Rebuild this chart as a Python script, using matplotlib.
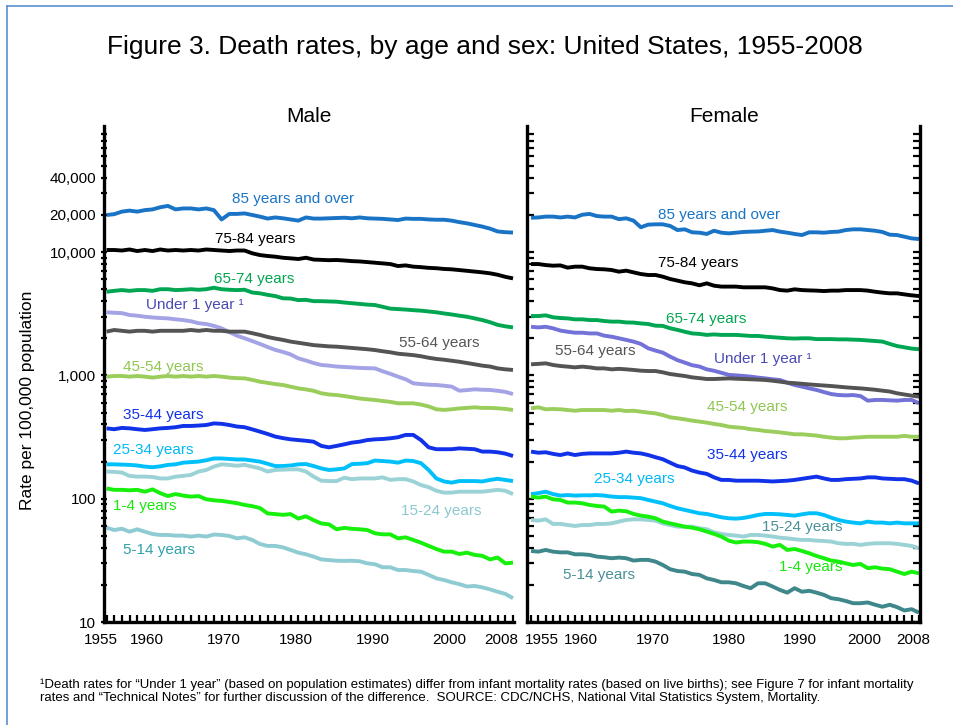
import matplotlib
matplotlib.use("Agg")
import matplotlib.pyplot as plt
import numpy as np
from matplotlib.ticker import LogLocator, NullFormatter
from matplotlib.lines import Line2D

plt.rcParams["font.family"] = ["Liberation Sans", "DejaVu Sans"]

years = list(range(1955, 2009))

# ---- Male death rates per 100,000 ----
male_85 = [20000, 20300, 21300, 21700, 21300, 21900, 22200, 23100, 23700, 22200,
           22600, 22600, 22200, 22600, 21900, 18400, 20400, 20400, 20600, 20000,
           19400, 18700, 19100, 18800, 18400, 18000, 19100, 18700, 18700, 18800,
           18900, 19000, 18800, 19100, 18800, 18700, 18600, 18400, 18200, 18700,
           18600, 18600, 18400, 18300, 18300, 18000, 17500, 17100, 16600, 16100,
           15500, 14700, 14500, 14400]
male_75 = [10400, 10400, 10300, 10500, 10200, 10400, 10200, 10500, 10300, 10400,
           10300, 10400, 10300, 10500, 10400, 10300, 10200, 10300, 10300, 9780,
           9460, 9300, 9180, 9000, 8900, 8790, 9000, 8700, 8650, 8600,
           8630, 8550, 8450, 8400, 8300, 8200, 8100, 8000, 7710, 7800,
           7620, 7550, 7450, 7400, 7300, 7250, 7150, 7050, 6950, 6850,
           6730, 6550, 6300, 6120]
male_65 = [4770, 4850, 4920, 4850, 4920, 4920, 4850, 5000, 5000, 4920,
           4950, 5000, 4950, 5000, 5140, 5000, 4950, 4920, 4950, 4700,
           4630, 4500, 4400, 4220, 4200, 4080, 4100, 4000, 4000, 3980,
           3960, 3900, 3850, 3800, 3750, 3720, 3600, 3480, 3450, 3420,
           3380, 3350, 3300, 3250, 3180, 3120, 3050, 2990, 2900, 2810,
           2700, 2570, 2500, 2450]
male_u1 = [3250, 3220, 3200, 3090, 3050, 2990, 2950, 2920, 2900, 2850,
           2810, 2750, 2650, 2610, 2520, 2410, 2250, 2100, 2000, 1900,
           1800, 1700, 1610, 1550, 1480, 1375, 1320, 1260, 1215, 1200,
           1180, 1170, 1160, 1150, 1145, 1140, 1080, 1030, 977, 930,
           863, 850, 840, 836, 825, 811, 752, 760, 771, 765,
           762, 750, 735, 706]
male_55 = [2265, 2335, 2300, 2265, 2300, 2300, 2265, 2300, 2300, 2300,
           2300, 2335, 2300, 2335, 2300, 2300, 2265, 2265, 2265, 2200,
           2130, 2050, 1990, 1940, 1880, 1840, 1800, 1760, 1740, 1720,
           1710, 1690, 1670, 1650, 1630, 1605, 1570, 1540, 1500, 1480,
           1460, 1430, 1390, 1360, 1340, 1315, 1290, 1260, 1230, 1200,
           1180, 1140, 1120, 1107]
male_45 = [977, 989, 989, 977, 989, 977, 960, 977, 989, 977,
           989, 977, 989, 977, 989, 977, 960, 950, 946, 920,
           889, 870, 850, 836, 810, 785, 770, 750, 716, 700,
           693, 680, 665, 650, 640, 632, 620, 610, 594, 594,
           594, 580, 560, 531, 525, 531, 540, 545, 551, 545,
           545, 541, 535, 524]
male_35 = [372, 366, 375, 372, 366, 361, 366, 372, 375, 380,
           389, 389, 392, 396, 408, 405, 396, 385, 380, 365,
           350, 335, 319, 310, 303, 299, 295, 290, 268, 261,
           268, 276, 285, 290, 299, 303, 305, 309, 315, 329,
           329, 299, 261, 252, 252, 252, 256, 254, 252, 241,
           241, 238, 232, 222]
male_25 = [190, 190, 189, 188, 186, 182, 180, 183, 188, 190,
           196, 198, 200, 205, 212, 212, 210, 208, 208, 204,
           200, 192, 184, 184, 186, 190, 191, 184, 176, 171,
           173, 176, 191, 192, 194, 204, 202, 200, 196, 204,
           202, 194, 171, 146, 138, 135, 139, 139, 139, 138,
           142, 145, 142, 139]
male_15 = [166, 165, 163, 153, 151, 151, 150, 146, 146, 151,
           153, 156, 166, 171, 182, 190, 188, 185, 188, 182,
           176, 166, 171, 172, 173, 173, 166, 151, 140, 139,
           139, 148, 144, 146, 146, 146, 149, 142, 144, 144,
           138, 129, 124, 116, 112, 112, 114, 114, 114, 114,
           116, 118, 116, 109]
male_1_4 = [121, 118, 118, 117, 118, 114, 119, 111, 105, 109,
            106, 104, 105, 99, 97, 96, 94, 92, 89, 87,
            84, 76, 75, 74, 75, 69, 72, 67, 63, 62,
            56.5, 58, 57, 56.5, 55.7, 52.4, 51.4, 51.4, 47.7, 48.6,
            46.3, 44.0, 41.4, 39.1, 37.2, 37.2, 35.6, 36.5, 35.0, 34.4,
            32.2, 33.3, 29.9, 30.3]
male_5_14 = [58.2, 55.7, 57.1, 54.0, 56.5, 54.0, 51.7, 50.8, 50.8, 50.2,
             50.2, 49.3, 50.2, 49.3, 51.2, 50.8, 49.9, 47.7, 48.6, 46.3,
             42.9, 41.4, 41.4, 40.3, 38.4, 36.5, 35.4, 33.9, 32.2, 31.8,
             31.4, 31.3, 31.4, 31.1, 29.9, 29.4, 27.8, 27.8, 26.4, 26.4,
             25.9, 25.6, 24.1, 22.6, 21.9, 21.0, 20.3, 19.4, 19.6, 19.1,
             18.4, 17.6, 16.9, 15.6]

# ---- Female death rates per 100,000 ----
female_85 = [19000, 19100, 19400, 19400, 19100, 19400, 19100, 20100, 20400, 19600,
             19400, 19400, 18500, 18800, 18000, 15900, 16700, 16800, 16800, 16300,
             15100, 15300, 14470, 14370, 14030, 14900, 14370, 14190, 14370, 14560,
             14650, 14700, 14900, 15100, 14650, 14370, 14030, 13750, 14470, 14470,
             14370, 14560, 14650, 15100, 15300, 15300, 15100, 14900, 14560, 13840,
             13750, 13330, 12920, 12760]
female_75 = [8000, 8000, 7850, 7760, 7800, 7480, 7620, 7620, 7390, 7290,
             7250, 7160, 6940, 7070, 6850, 6640, 6520, 6520, 6320, 6050,
             5870, 5690, 5580, 5380, 5580, 5340, 5250, 5250, 5250, 5180,
             5180, 5180, 5180, 5080, 4920, 4870, 4990, 4920, 4890, 4870,
             4830, 4870, 4870, 4920, 4920, 4920, 4870, 4770, 4690, 4630,
             4630, 4540, 4460, 4400]
female_65 = [3030, 3030, 3070, 2960, 2920, 2900, 2850, 2850, 2810, 2810,
             2760, 2730, 2730, 2690, 2680, 2640, 2610, 2530, 2520, 2410,
             2340, 2260, 2190, 2170, 2130, 2150, 2130, 2130, 2130, 2110,
             2090, 2090, 2060, 2040, 2020, 2000, 1990, 2000, 2000, 1970,
             1970, 1970, 1960, 1960, 1950, 1940, 1920, 1900, 1880, 1800,
             1730, 1690, 1650, 1630]
female_u1 = [2480, 2450, 2480, 2410, 2310, 2260, 2220, 2220, 2190, 2190,
             2100, 2060, 2000, 1940, 1880, 1800, 1660, 1590, 1530, 1420,
             1330, 1270, 1210, 1180, 1120, 1090, 1050, 1010, 1000, 990,
             977, 960, 946, 930, 918, 873, 836, 811, 785, 762,
             733, 706, 693, 689, 693, 680, 624, 632, 632, 628,
             624, 632, 632, 594]
female_55 = [1230, 1240, 1253, 1215, 1192, 1178, 1162, 1178, 1162, 1140,
             1140, 1120, 1130, 1120, 1107, 1092, 1085, 1085, 1059, 1026,
             1007, 989, 964, 950, 935, 935, 940, 946, 940, 935,
             930, 925, 918, 905, 890, 873, 865, 855, 845, 836,
             828, 820, 810, 800, 792, 785, 775, 765, 752, 740,
             716, 700, 685, 672]
female_45 = [541, 551, 531, 534, 531, 524, 517, 524, 524, 524,
             524, 517, 524, 514, 517, 508, 499, 492, 477, 457,
             449, 440, 430, 422, 414, 404, 396, 384, 379, 375,
             366, 361, 354, 350, 345, 339, 333, 333, 329, 325,
             318, 313, 309, 309, 313, 315, 318, 318, 318, 318,
             318, 323, 318, 318]
female_35 = [241, 236, 238, 231, 226, 233, 226, 231, 233, 233,
             233, 233, 236, 241, 236, 233, 226, 217, 209, 196,
             184, 179, 169, 163, 159, 149, 142, 142, 140, 140,
             140, 140, 139, 138, 139, 140, 142, 145, 148, 151,
             146, 142, 142, 144, 145, 146, 149, 149, 146, 145,
             144, 144, 140, 133]
female_25 = [109, 111, 114, 109, 106, 107, 106, 106.5, 106.5, 107,
             106, 104, 103, 103, 102, 101, 97.7, 94.7, 91.8, 87.3,
             83.6, 81.1, 78.6, 76.2, 75.2, 72.9, 70.7, 69.4, 68.9, 69.8,
             71.6, 73.8, 75.2, 75.2, 74.7, 73.8, 72.9, 74.7, 76.2, 76.2,
             73.8, 70.2, 67.2, 65.2, 64.0, 63.1, 65.2, 64.0, 64.0, 63.1,
             64.0, 63.1, 63.1, 63.1]
female_15 = [67.2, 66.4, 68.0, 62.4, 62.4, 61.2, 60.1, 61.2, 61.2, 62.4,
             62.4, 63.1, 65.2, 67.2, 68.0, 68.0, 67.2, 66.4, 63.1, 61.2,
             59.3, 59.3, 59.3, 57.5, 56.5, 53.4, 51.8, 50.8, 50.2, 49.3,
             50.8, 50.8, 50.2, 49.3, 48.3, 47.7, 46.9, 46.3, 46.3, 45.7,
             45.4, 44.9, 43.5, 43.0, 43.0, 42.2, 43.0, 43.5, 43.5, 43.5,
             43.0, 42.2, 41.4, 39.6]
female_1_4 = [104, 102, 104, 98.9, 97.7, 93.0, 93.0, 91.8, 89.0, 87.3,
              86.3, 78.6, 80.0, 79.1, 75.2, 72.9, 71.6, 69.4, 65.2, 63.1,
              61.2, 59.3, 58.2, 56.5, 54.1, 51.8, 49.3, 45.7, 44.1, 44.9,
              44.9, 44.4, 43.0, 40.9, 42.2, 38.4, 39.1, 37.7, 36.1, 34.3,
              32.9, 31.5, 30.9, 29.9, 29.0, 29.6, 27.3, 27.8, 27.1, 26.8,
              25.6, 24.5, 25.6, 24.8]
female_5_14 = [37.7, 37.2, 38.4, 37.2, 36.7, 36.7, 35.4, 35.4, 35.0, 33.9,
               33.5, 32.9, 33.3, 32.9, 31.5, 31.9, 31.9, 30.9, 29.0, 26.8,
               25.9, 25.6, 24.5, 24.1, 22.6, 21.9, 21.0, 21.0, 20.6, 19.6,
               18.8, 20.6, 20.6, 19.4, 18.2, 17.3, 18.8, 17.6, 17.9, 17.3,
               16.6, 15.6, 15.3, 14.8, 14.2, 14.2, 14.4, 13.8, 13.3, 13.8,
               13.2, 12.4, 12.7, 11.9]

age_groups = ["85 years and over", "75-84 years", "65-74 years", "Under 1 year \u00b9",
              "55-64 years", "45-54 years", "35-44 years", "25-34 years",
              "15-24 years", "1-4 years", "5-14 years"]
male_series = [male_85, male_75, male_65, male_u1, male_55, male_45, male_35,
               male_25, male_15, male_1_4, male_5_14]
female_series = [female_85, female_75, female_65, female_u1, female_55, female_45,
                 female_35, female_25, female_15, female_1_4, female_5_14]

# line colours and label colours per panel
male_line_colors = ["#1a74c6", "#000000", "#00a651", "#a3a3e6", "#545454", "#9acd5c",
                    "#1132e8", "#00c0fb", "#9bd2d6", "#17f00c", "#8fcbd2"]
female_line_colors = ["#1a74c6", "#000000", "#00a651", "#7272d8", "#545454", "#9acd5c",
                      "#1132e8", "#00c0fb", "#9bd2d6", "#17f00c", "#3e878b"]
male_text_colors = ["#1a74c6", "#000000", "#00a651", "#4a4ab2", "#555555", "#90c650",
                    "#1132e8", "#00b8f5", "#8cc8ce", "#17e80c", "#2fa2aa"]
female_text_colors = ["#1a74c6", "#000000", "#00a651", "#4a4ab2", "#555555", "#90c650",
                      "#1132e8", "#00b8f5", "#4b9097", "#17e80c", "#4a8f95"]

# label anchor (year, rate) per panel
male_label_pos = [(1971.4, 27000), (1969.2, 12760), (1969.0, 6050), (1960.2, 3720),
                  (1993.1, 1830), (1957.1, 1170), (1957.1, 477), (1955.9, 248),
                  (1993.4, 79.4), (1955.8, 87.3), (1957.1, 38.4)]
female_label_pos = [(1972.3, 20000), (1972.3, 8170), (1973.4, 2860), (1980.0, 1360),
                    (1958.3, 1580), (1979.0, 555), (1979.0, 226), (1963.6, 145),
                    (1986.6, 58.9), (1988.9, 27.9), (1959.4, 24.0)]

x_label_years = [1955, 1960, 1970, 1980, 1990, 2000, 2008]
male_xlabel_shift = {1955: -6, 1960: 2, 1970: 2, 1980: -2, 1990: -2, 2000: -2, 2008: -12}
female_xlabel_shift = {1955: 11, 1960: 13, 1970: 12, 1980: 15, 1990: 13, 2000: 4, 2008: -6}

fig = plt.figure(figsize=(9.54, 7.25), dpi=100)
ax_m = fig.add_axes([104 / 954, 1 - 622 / 725, 410 / 954, 496 / 725])
ax_f = fig.add_axes([527 / 954, 1 - 622 / 725, 393.5 / 954, 496 / 725])

ymax = 10 ** (1 + 496 / 123.3)


def setup_panel(ax, title, xlim, shifts, left_labels):
    ax.set_yscale("log")
    ax.set_ylim(10, ymax)
    ax.set_xlim(*xlim)
    ax.set_facecolor("none")
    ax.spines["top"].set_visible(False)
    for s in ax.spines.values():
        s.set_linewidth(2.4)
    ax.set_xticks(years)
    ax.set_xticklabels([])
    ax.tick_params(axis="x", direction="in", length=5, width=1.6)
    ax.set_yticks([10, 100, 1000, 10000, 20000, 40000])
    ax.yaxis.set_minor_locator(LogLocator(base=10, subs=np.arange(2, 10), numticks=20))
    ax.yaxis.set_minor_formatter(NullFormatter())
    if left_labels:
        ax.set_yticklabels(["10", "100", "1,000", "10,000", "20,000", "40,000"], fontsize=11)
        ax.tick_params(axis="y", which="both", direction="inout", length=5, width=1.6, pad=3)
    else:
        ax.set_yticklabels([])
        ax.tick_params(axis="y", which="both", direction="in", length=5, width=1.6,
                       right=True, left=True)
    for yr in x_label_years:
        ax.annotate(str(yr), xy=(yr, 0), xycoords=("data", "axes fraction"),
                    xytext=(shifts[yr], -18), textcoords="offset pixels",
                    ha="center", va="center", fontsize=11, annotation_clip=False)
    ax.text(0.5, 1.0, title, transform=ax.transAxes, ha="center", va="bottom",
            fontsize=15)


setup_panel(ax_m, "Male", (1954.67, 2008.13), male_xlabel_shift, True)
ax_m.spines["right"].set_visible(False)
setup_panel(ax_f, "Female", (1954.45, 2008.2), female_xlabel_shift, False)

for ax, series, lcols, tcols, lpos in [
    (ax_m, male_series, male_line_colors, male_text_colors, male_label_pos),
    (ax_f, female_series, female_line_colors, female_text_colors, female_label_pos),
]:
    for vals, lc, tc, name, (lx, ly) in zip(series, lcols, tcols, age_groups, lpos):
        ax.plot(years, vals, color=lc, lw=2.8, solid_capstyle="butt")
        ax.text(lx, ly, name, color=tc, fontsize=11, ha="left", va="center")

fig.text(485 / 954, 1 - 47 / 725, "Figure 3. Death rates, by age and sex: United States, 1955-2008",
         ha="center", va="center", fontsize=19)
fig.text(28 / 954, 1 - 400 / 725, "Rate per 100,000 population", rotation=90,
         ha="center", va="center", fontsize=12.5)

fig.text(40 / 954, 1 - 685 / 725,
         "\u00b9Death rates for \u201cUnder 1 year\u201d (based on population estimates) differ from "
         "infant mortality rates (based on live births); see Figure 7 for infant mortality",
         ha="left", va="center", fontsize=9.5)
fig.text(40 / 954, 1 - 698 / 725,
         "rates and \u201cTechnical Notes\u201d for further discussion of the difference.  "
         "SOURCE: CDC/NCHS, National Vital Statistics System, Mortality.",
         ha="left", va="center", fontsize=9.5)

# light blue frame around the figure (cut off at right and bottom)
frame_col = "#5b8fd2"
fig.add_artist(Line2D([7 / 954, 7 / 954], [0, 1 - 6 / 725], transform=fig.transFigure,
                      color=frame_col, lw=1.2))
fig.add_artist(Line2D([7 / 954, 1], [1 - 6 / 725, 1 - 6 / 725], transform=fig.transFigure,
                      color=frame_col, lw=1.2))

fig.savefig("out.png", dpi=100)
